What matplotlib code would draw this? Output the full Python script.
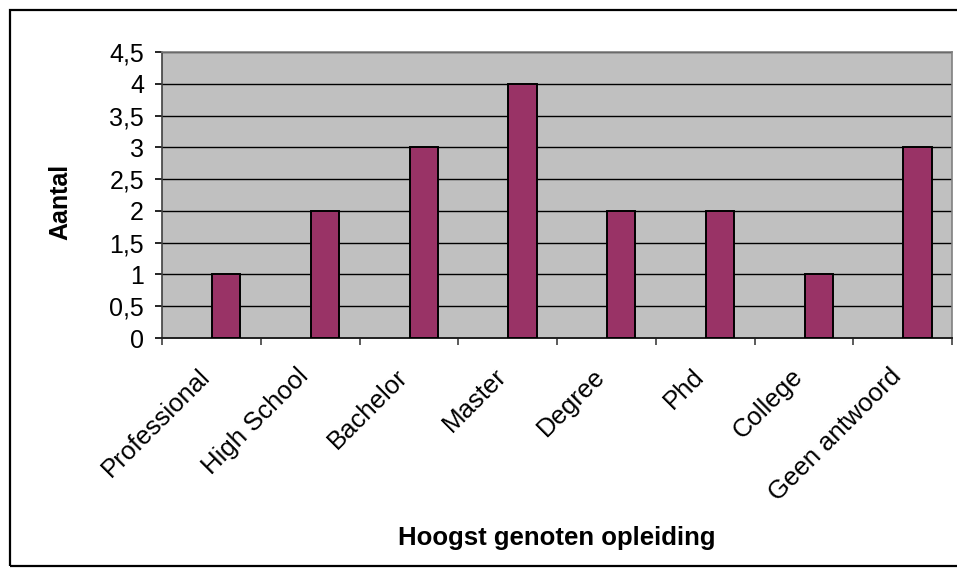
import numpy as np
import matplotlib.pyplot as plt
from matplotlib.patches import Rectangle

# data
categories = ["Professional", "High School", "Bachelor", "Master",
              "Degree", "Phd", "College", "Geen antwoord"]
counts = [1, 2, 3, 4, 2, 2, 1, 3]
yticks = [0, 0.5, 1, 1.5, 2, 2.5, 3, 3.5, 4, 4.5]

plt.rcParams['font.family'] = ['Liberation Sans', 'DejaVu Sans']

W, H = 957, 576
fig = plt.figure(figsize=(W / 100, H / 100), dpi=100)

# outer frame of the chart
fig.patches.append(Rectangle((10 / W, 1 - 566 / H), 960 / W, 556 / H,
                             transform=fig.transFigure, fill=False,
                             edgecolor='black', linewidth=1.6))

ax = fig.add_axes([162 / W, 1 - 338 / H, 790 / W, 286 / H])
ax.set_facecolor('#C0C0C0')

x = np.arange(len(categories))
ax.bar(x + 0.65, counts, width=0.285, color='#993366',
       edgecolor='black', linewidth=1.4, zorder=3)

ax.set_xlim(0, len(categories))
ax.set_ylim(0, 4.5)
ax.set_yticks(yticks)
ax.set_yticklabels([("%g" % v).replace('.', ',') for v in yticks], fontsize=18)
ax.yaxis.grid(True, color='black', linewidth=1)
ax.set_axisbelow(True)

ax.set_xticks(np.arange(len(categories) + 1))
ax.set_xticklabels([])
ax.set_xticks(x + 0.45, minor=True)
ax.set_xticklabels(categories, minor=True, rotation=45, ha='right',
                   va='center', rotation_mode='anchor', fontsize=18.5)
ax.tick_params(axis='x', which='minor', length=0, pad=25)
ax.tick_params(axis='x', which='major', length=5, width=1.2, color='#404040')
ax.tick_params(axis='y', length=5, width=1.2, pad=8)

for s in ['top', 'right']:
    ax.spines[s].set_color('#808080')
    ax.spines[s].set_linewidth(1.2)
ax.spines['left'].set_color('#404040')
ax.spines['left'].set_linewidth(1.2)
ax.spines['bottom'].set_color('#202020')
ax.spines['bottom'].set_linewidth(1.4)

fig.text(557 / W, 1 - 538 / H, "Hoogst genoten opleiding", ha='center',
         va='center', fontsize=18.5, fontweight='bold')
fig.text(60 / W, 1 - 202 / H, "Aantal", ha='center', va='center',
         rotation=90, fontsize=18, fontweight='bold')

fig.savefig("out.png", dpi=100)
